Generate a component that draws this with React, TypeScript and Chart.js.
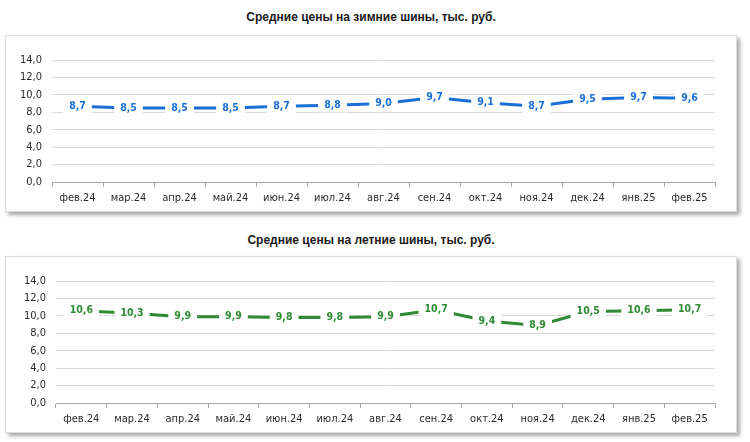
import { Chart, registerables } from "chart.js"
import type { Plugin } from "chart.js"
import { useEffect, useRef } from "react"

Chart.register(...registerables)

const months = [
  "фев.24", "мар.24", "апр.24", "май.24", "июн.24", "июл.24", "авг.24",
  "сен.24", "окт.24", "ноя.24", "дек.24", "янв.25", "фев.25",
]
const winterPrices = [8.7, 8.5, 8.5, 8.5, 8.7, 8.8, 9.0, 9.7, 9.1, 8.7, 9.5, 9.7, 9.6]
const summerPrices = [10.6, 10.3, 9.9, 9.9, 9.8, 9.8, 9.9, 10.7, 9.4, 8.9, 10.5, 10.6, 10.7]
const yTicks = [0, 2, 4, 6, 8, 10, 12, 14]

const winterTitle = "Средние цены на зимние шины, тыс. руб."
const summerTitle = "Средние цены на летние шины, тыс. руб."

const fmt = (v: number) => v.toFixed(1).replace(".", ",")

// labels in white boxes sitting right on the line
const labelPlugin: Plugin<"line"> = {
  id: "pointLabels",
  afterDatasetsDraw(chart) {
    const ctx = chart.ctx
    chart.data.datasets.forEach((ds, di) => {
      const meta = chart.getDatasetMeta(di)
      ctx.save()
      ctx.font = "bold 10.5px 'DejaVu Sans Condensed', 'DejaVu Sans'"
      ctx.textAlign = "center"
      ctx.textBaseline = "middle"
      meta.data.forEach((pt, i) => {
        const text = fmt(ds.data[i] as number)
        const w = ctx.measureText(text).width + 12
        ctx.fillStyle = "#ffffff"
        ctx.fillRect(pt.x - w / 2, pt.y - 7, w, 14)
        ctx.fillStyle = ds.borderColor as string
        ctx.fillText(text, pt.x, pt.y)
      })
      ctx.restore()
    })
  },
}

interface PriceChartProps {
  values: number[]
  color: string
  yWidth: number
}

function PriceChart({ values, color, yWidth }: PriceChartProps) {
  const canvasRef = useRef<HTMLCanvasElement>(null)

  useEffect(() => {
    if (!canvasRef.current) return
    const tickFont = { family: "'DejaVu Sans Condensed', 'DejaVu Sans'", size: 11 }
    const chart = new Chart(canvasRef.current, {
      type: "line",
      data: {
        labels: months,
        datasets: [
          {
            data: values,
            borderColor: color,
            borderWidth: 3,
            pointRadius: 0,
            tension: 0,
          },
        ],
      },
      options: {
        animation: false,
        responsive: true,
        maintainAspectRatio: false,
        layout: { padding: { top: 24, right: 21, bottom: 5, left: 0 } },
        plugins: {
          legend: { display: false },
          tooltip: { enabled: false },
        },
        scales: {
          x: {
            offset: true,
            grid: {
              offset: true,
              drawOnChartArea: false,
              drawTicks: true,
              tickLength: 5,
              color: "#a6a6a6",
            },
            border: { display: true, color: "#a6a6a6" },
            ticks: { color: "#2b2b2b", font: tickFont, padding: 5, maxRotation: 0, autoSkip: false },
            afterFit: (scale) => {
              scale.height = 24
            },
          },
          y: {
            min: 0,
            max: 14,
            afterBuildTicks: (scale) => {
              scale.ticks = yTicks.map((v) => ({ value: v }))
            },
            grid: { color: "#d9d9d9", drawTicks: false },
            border: { display: false },
            ticks: {
              color: "#2b2b2b",
              font: tickFont,
              padding: 10,
              callback: (v) => fmt(Number(v)),
            },
            afterFit: (scale) => {
              scale.width = yWidth
            },
          },
        },
      },
      plugins: [labelPlugin],
    })
    return () => chart.destroy()
  }, [values, color, yWidth])

  return <canvas ref={canvasRef} />
}

const titleStyle: React.CSSProperties = {
  position: "absolute",
  left: 0,
  width: 742,
  textAlign: "center",
  font: "bold 12px 'Liberation Sans', Arial, sans-serif",
  color: "#1a1a1a",
}

const boxStyle: React.CSSProperties = {
  position: "absolute",
  left: 5,
  width: 730,
  height: 175,
  border: "1px solid #dcdcdc",
  background: "#ffffff",
  boxShadow: "3px 3px 4px rgba(0,0,0,0.35)",
}

export default function App() {
  useEffect(() => {
    document.body.style.margin = "0"
  }, [])

  return (
    <div style={{ position: "relative", width: 750, height: 442, background: "#ffffff" }}>
      <div style={{ ...titleStyle, top: 10 }}>{winterTitle}</div>
      <div style={{ ...boxStyle, top: 35 }}>
        <PriceChart values={winterPrices} color="#1a6fd6" yWidth={46} />
      </div>
      <div style={{ ...titleStyle, top: 233 }}>{summerTitle}</div>
      <div style={{ ...boxStyle, top: 256 }}>
        <PriceChart values={summerPrices} color="#2e8b34" yWidth={50} />
      </div>
    </div>
  )
}
